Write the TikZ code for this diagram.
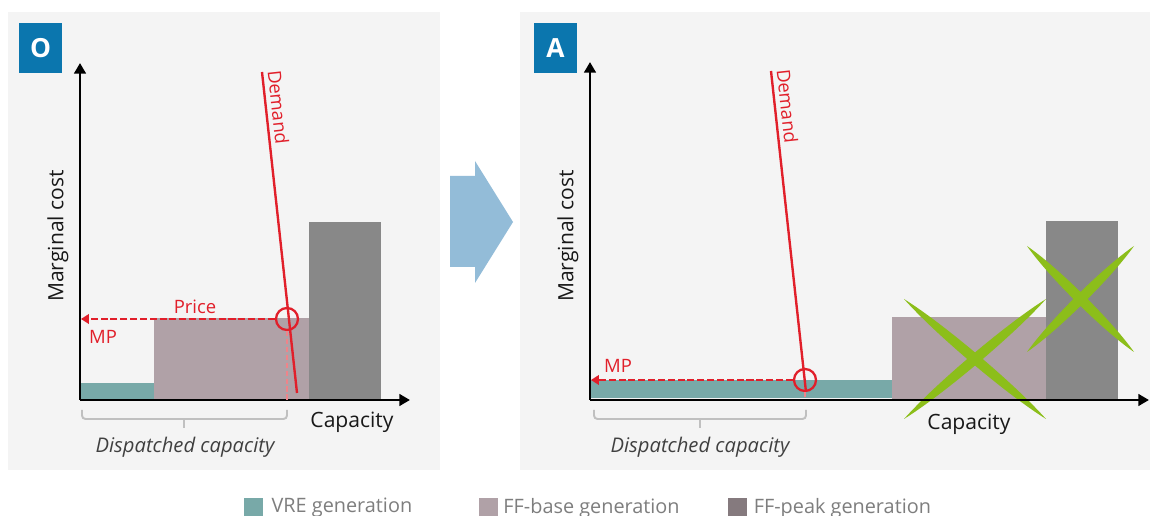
\documentclass[tikz,border=0pt]{standalone}
\usepackage{fontspec}
\setmainfont{Open Sans}
\usetikzlibrary{arrows.meta,positioning,calc}

\definecolor{panelgray}{HTML}{F4F4F4}
\definecolor{badgeblue}{HTML}{0B76AE}
\definecolor{vrecol}{HTML}{78A9A8}
\definecolor{basecol}{HTML}{B0A1A7}
\definecolor{peakcol}{HTML}{888888}
\definecolor{peaklg}{HTML}{857A7E}
\definecolor{demandred}{HTML}{E11F2A}
\definecolor{crossgreen}{HTML}{8CBE1A}
\definecolor{shiftblue}{HTML}{93BCD8}
\definecolor{bracegray}{HTML}{C0C0C0}
\definecolor{legtext}{HTML}{7E7E7E}

\begin{document}
\begin{tikzpicture}[
  x=0.02cm, y=-0.02cm,
  font=\fontsize{10}{12}\selectfont,
  badge/.style={fill=badgeblue, text=white, font=\fontsize{15}{15}\selectfont\bfseries,
                minimum width=0.86cm, minimum height=1cm, inner sep=0pt},
  axis/.style={-{Triangle[length=6pt, width=6.5pt]}, line width=1.7pt},
  axlab/.style={font=\fontsize{12}{14}\selectfont, text=black!90, inner sep=0pt},
  demline/.style={draw=demandred, line width=1.35pt},
  redlab/.style={font=\fontsize{10.5}{12}\selectfont, text=demandred, inner sep=0pt},
  hit/.style={circle, draw=demandred, line width=1.3pt, minimum size=0.44cm, inner sep=0pt},
  pricearr/.style={-{Triangle[length=4.5pt, width=5.5pt]}, draw=demandred,
                   dash pattern=on 4pt off 1.6pt, line width=0.9pt},
  drop/.style={draw=demandred!55, dash pattern=on 3pt off 1.5pt, line width=0.65pt},
  brace/.style={draw=bracegray, line width=1.1pt, rounded corners=2pt},
  dcap/.style={font=\fontsize{11.5}{13}\selectfont\itshape, text=black!75, inner sep=0pt},
  lens/.style={fill=crossgreen},
  legbox/.style={minimum size=0.38cm, inner sep=0pt},
  legtxt/.style={font=\fontsize{11.3}{13}\selectfont, text=legtext, inner sep=0pt, anchor=west}
]

\useasboundingbox (0,0) rectangle (1150,516);
\fill[white] (0,0) rectangle (1150,516);

% ---------------- panel O: before ----------------
\fill[panelgray] (8,12) rectangle (440,470);
\node[badge] (badgeO) at (40.5,48) {O};

\fill[vrecol]  (80,383) rectangle (154,400);
\fill[basecol] (154,318) rectangle (309,400);
\fill[peakcol] (309,222) rectangle (381,400);

\coordinate (o1) at (80,400);
\coordinate (y1) at (80,63);
\coordinate (x1) at (410,400);
\draw[axis] (o1) -- (y1);
\draw[axis] (o1) -- (x1);

\coordinate (d1top) at (262,72);
\coordinate (d1bot) at (297,393);
\draw[demline] (d1top) -- (d1bot);
\node[redlab, rotate=-83.8, anchor=south west] (dem1) at (267,71) {Demand};

\node[hit] (c1) at (287,319) {};
\coordinate (mp1) at (81,319);
\draw[pricearr] (c1.west) -- (mp1);
\draw[drop] (c1.south) -- (c1.south |- o1);
\node[redlab] (price1) at (195,307) {Price};
\node[redlab] (mplab1) at (103,337) {MP};

\draw[brace] (82,410) |- (287,419) -- (287,410);
\draw[brace] (184,419) -- (184,428);
\node[dcap] (dc1) at (185,447) {Dispatched capacity};

\node[axlab] (cap1) at (352,422) {Capacity};
\node[axlab, rotate=90] (mc1) at (58,236) {Marginal cost};

% ---------------- shift arrow ----------------
\fill[shiftblue] (450,176) -- (475,176) -- (475,161) -- (513,222)
  -- (475,283) -- (475,267) -- (450,267) -- cycle;

% ---------------- panel A: after ----------------
\fill[panelgray] (520,12) rectangle (1150,470);
\node[badge] (badgeA) at (555.5,48) {A};

\fill[vrecol]  (590,380) rectangle (892,398);
\fill[basecol] (892,317) rectangle (1046,400);
\fill[peakcol] (1046,221) rectangle (1118,400);

% crossed-out fossil plants
\foreach \ax/\ay/\bx/\by in {904/299/1046/419, 904/419/1046/299,
                             1027/246/1134/352, 1027/352/1134/246}
  \fill[lens] (\ax,\ay)
    .. controls ($(\ax,\ay)!0.25!(\bx,\by)!3.8pt!90:(\bx,\by)$)
    and ($(\ax,\ay)!0.75!(\bx,\by)!3.8pt!90:(\bx,\by)$) .. (\bx,\by)
    .. controls ($(\bx,\by)!0.25!(\ax,\ay)!3.8pt!90:(\ax,\ay)$)
    and ($(\bx,\by)!0.75!(\ax,\ay)!3.8pt!90:(\ax,\ay)$) .. (\ax,\ay) -- cycle;

\coordinate (o2) at (590,400);
\coordinate (y2) at (590,62);
\coordinate (x2) at (1149,400);
\draw[axis] (o2) -- (y2);
\draw[axis] (o2) -- (x2);

\coordinate (d2top) at (771,71);
\coordinate (d2bot) at (806,392);
\draw[demline] (d2top) -- (d2bot);
\node[redlab, rotate=-83.8, anchor=south west] (dem2) at (776,70) {Demand};

\node[hit] (c2) at (805,380) {};
\coordinate (mp2) at (591,380);
\draw[pricearr] (c2.west) -- (mp2);
\draw[drop] (c2.south) -- (c2.south |- o2);
\node[redlab] (mplab2) at (618,366) {MP};

\draw[brace] (594,410) |- (806,419) -- (806,410);
\draw[brace] (700,419) -- (700,428);
\node[dcap] (dc2) at (700,447) {Dispatched capacity};

\node[axlab] (cap2) at (969,424) {Capacity};
\node[axlab, rotate=90] (mc2) at (568,236) {Marginal cost};

% ---------------- legend ----------------
\node[legbox, fill=vrecol] (lgvre) at (253.5,508) {};
\node[legtxt, right=4.5pt of lgvre] (lgvret) {VRE generation};
\node[legbox, fill=basecol] (lgbase) at (488,508) {};
\node[legtxt, right=3pt of lgbase] (lgbaset) {FF-base generation};
\node[legbox, fill=peaklg] (lgpeak) at (737.5,508) {};
\node[legtxt, right=3.5pt of lgpeak] (lgpeakt) {FF-peak generation};

\end{tikzpicture}
\end{document}
